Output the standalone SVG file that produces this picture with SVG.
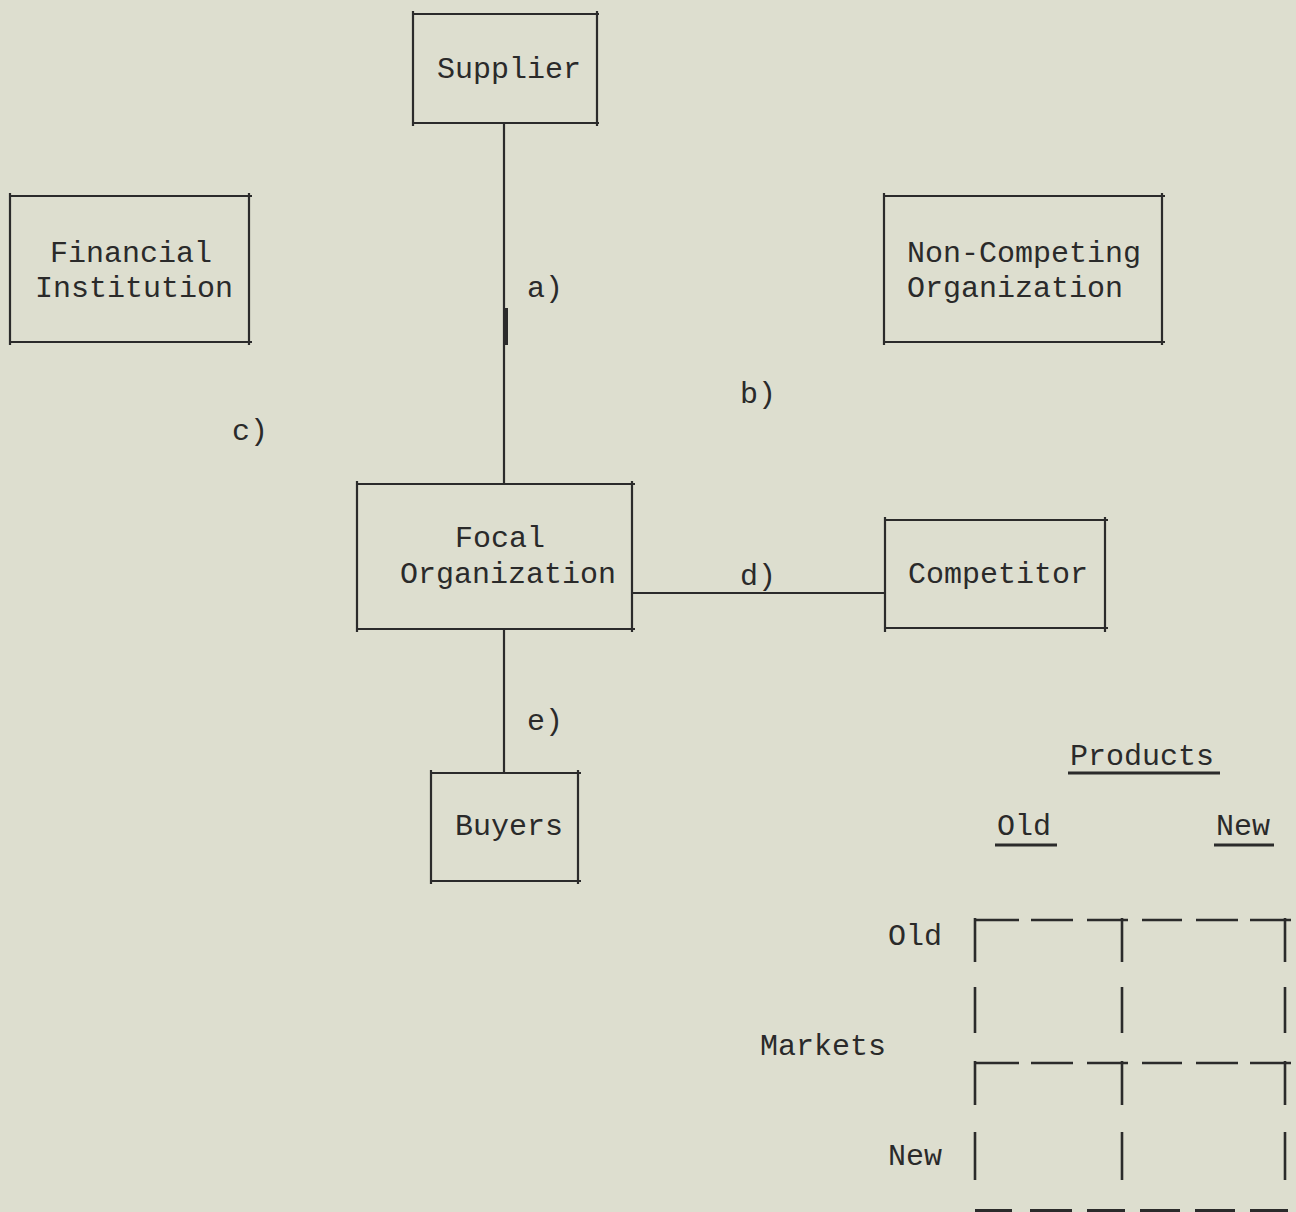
<svg xmlns="http://www.w3.org/2000/svg" width="1296" height="1212" viewBox="0 0 1296 1212">
<style>
.bg{fill:#dddecf}
.ln{stroke:#2b2b2b;stroke-width:2.2;fill:none;stroke-linecap:butt}
.ul{stroke:#2b2b2b;stroke-width:3;fill:none}
.gd{stroke:#2b2b2b;stroke-width:2.6;fill:none}
text{font-family:"Liberation Mono","Courier New",monospace;font-size:30px;fill:#2a2a2a}
</style>
<rect class="bg" x="0" y="0" width="1296" height="1212"/>
<g id="supplier">
<path class="ln" d="M413 14H599M413 123H599M413 11V126M597 11V126"/>
<text x="437" y="78">Supplier</text>
</g>
<g id="financial-institution">
<path class="ln" d="M10 196H252M10 342H252M10 193V345M249 193V345"/>
<text x="50" y="262">Financial</text>
<text x="35" y="297">Institution</text>
</g>
<g id="non-competing-organization">
<path class="ln" d="M884 196H1165M884 342H1165M884 193V345M1162 193V345"/>
<text x="907" y="262">Non-Competing</text>
<text x="907" y="297">Organization</text>
</g>
<g id="focal-organization">
<path class="ln" d="M357 484H635M357 629H635M357 481V632M632 481V632"/>
<text x="455" y="547">Focal</text>
<text x="400" y="583">Organization</text>
</g>
<g id="competitor">
<path class="ln" d="M885 520H1108M885 628H1108M885 517V632M1105 517V632"/>
<text x="908" y="583">Competitor</text>
</g>
<g id="buyers">
<path class="ln" d="M431 773H581M431 881H581M431 770V884M578 770V884"/>
<text x="455" y="835">Buyers</text>
</g>
<g id="connectors">
<path class="ln" d="M504 124V484"/>
<path stroke="#2b2b2b" stroke-width="4" d="M506 308V345"/>
<path class="ln" d="M632 593H885"/>
<path class="ln" d="M504 629V773"/>
</g>
<g id="labels">
<text x="527" y="297">a)</text>
<text x="740" y="403">b)</text>
<text x="232" y="440">c)</text>
<text x="740" y="585">d)</text>
<text x="527" y="730">e)</text>
</g>
<g id="matrix">
<text x="1070" y="765">Products</text>
<path class="ul" d="M1068 773H1220"/>
<text x="997" y="835">Old</text>
<path class="ul" d="M995 845H1057"/>
<text x="1216" y="835">New</text>
<path class="ul" d="M1214 845H1274"/>
<text x="888" y="945">Old</text>
<text x="760" y="1055">Markets</text>
<text x="888" y="1165">New</text>
<path class="gd" d="M975 920H1019M1031 920H1073M1087 920H1128M1142 920H1182M1196 920H1238M1250 920H1291"/>
<path class="gd" d="M975 1063H1019M1031 1063H1073M1087 1063H1128M1142 1063H1182M1196 1063H1238M1250 1063H1291"/>
<path stroke="#2b2b2b" stroke-width="4" d="M975 1211H1012M1030 1211H1072M1087 1211H1125M1140 1211H1180M1195 1211H1235M1250 1211H1288"/>
<path class="gd" d="M975 918V962M975 987V1033M975 1061V1105M975 1132V1180"/>
<path class="gd" d="M1122 918V962M1122 987V1033M1122 1061V1105M1122 1132V1180"/>
<path class="gd" d="M1285 918V962M1285 987V1033M1285 1061V1105M1285 1132V1180"/>
</g>
</svg>
